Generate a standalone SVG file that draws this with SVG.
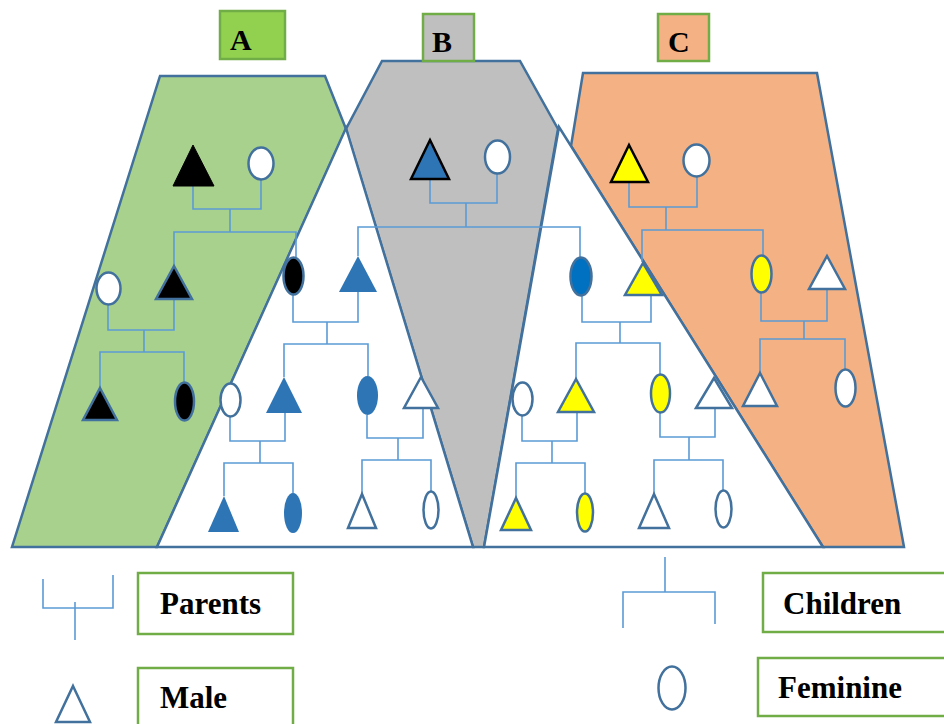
<svg xmlns="http://www.w3.org/2000/svg" width="944" height="724" viewBox="0 0 944 724">
<style>
.area{stroke:#41719C;stroke-width:2.5;stroke-linejoin:miter}
.con{fill:none;stroke:#5B9BD5;stroke-width:1.6}
.n{stroke:#41719C;stroke-width:2.5}
.nk{stroke:#000;stroke-width:2.5}
.wht{fill:#fff}
.blk{fill:#000}
.blu{fill:#2E75B6}
.blu2{fill:#0070C0}
.yel{fill:#FFFF00}
.lbl{stroke:#70AD47;stroke-width:2.5}
.t{font-family:"Liberation Serif","Times New Roman",serif;font-weight:bold;fill:#000}
</style>
<g id="regions">
<polygon id="region-A" class="area" fill="#A9D18E" points="160,76 325,76 346,129 157,547 12,547"/>
<polygon id="region-B" class="area" fill="#BFBFBF" points="382,61 520,61 558,129 484,547 473,547 346,129"/>
<polygon id="region-C" class="area" fill="#F4B183" points="583,73 817,73 904,547 823,547 571,146"/>
<polygon id="tri-1" class="area" fill="#fff" points="346,128 473,547 157,547"/>
<polygon id="tri-2" class="area" fill="#fff" points="559,127 823,547 484,547"/>
</g>
<g id="connectors">
<path class="con" d="M193,186 V209 H261 V180 M230,209 V232 M174,265 V232 H296 V257"/>
<path class="con" d="M108,305 V330 H174 V299 M144,330 V352 M100,387 V352 H184 V382"/>
<path class="con" d="M293,295 V322 H358 V292 M327,322 V344 M284,377 V344 H368 V376"/>
<path class="con" d="M230,417 V441 H285 V413 M260,441 V463 M224,496 V463 H293 V493"/>
<path class="con" d="M367,415 V438 H423 V408 M398,438 V460 M362,493 V460 H431 V491"/>
<path class="con" d="M430,179 V203 H497 V174 M466,203 V227 M358,256 V227 H580 V257"/>
<path class="con" d="M582,295 V322 H651 V293 M620,322 V343 M576,378 V343 H660 V374"/>
<path class="con" d="M522,416 V441 H577 V412 M552,441 V463 M516,497 V463 H585 V493"/>
<path class="con" d="M660,413 V437 H715 V408 M689,437 V460 M654,493 V460 H723 V490"/>
<path class="con" d="M629,182 V207 H697 V177 M666,207 V230 M642,262 V230 H763 V255"/>
<path class="con" d="M761,293 V321 H827 V289 M804,321 V339 M760,372 V339 H845 V369"/>
</g>
<g id="nodes">
<g id="a-father"><polygon class="blk" stroke="#000" stroke-width="1" points="193,145 214,186 173,186"/></g>
<g id="a-mother"><ellipse class="n wht" cx="261" cy="163.5" rx="12.5" ry="16"/></g>
<g id="a-f2"><ellipse class="n wht" cx="108.5" cy="288.5" rx="12" ry="16"/></g>
<g id="a-m2"><polygon class="n blk" points="174,266 192,299 156,299"/></g>
<g id="a-m3"><polygon class="n blk" points="100,388 117,420 83,420"/></g>
<g id="a-f3"><ellipse class="n blk" cx="184.5" cy="401.5" rx="9.5" ry="19"/></g>
<g id="t1-f2"><ellipse class="n blk" cx="293.5" cy="276" rx="10" ry="18.5"/></g>
<g id="t1-m2"><polygon class="blu" points="358,256 377,292 339,292"/></g>
<g id="t1-f3a"><ellipse class="n wht" cx="230.5" cy="400" rx="10" ry="16.5"/></g>
<g id="t1-m3a"><polygon class="blu" points="284,377 302,413 266,413"/></g>
<g id="t1-f3b"><ellipse class="blu" cx="367.5" cy="395.5" rx="10.5" ry="19.5"/></g>
<g id="t1-m3b"><polygon class="n wht" points="421,377 438,408 404,408"/></g>
<g id="t1-m4a"><polygon class="blu" points="224,496 239,532 208,532"/></g>
<g id="t1-f4a"><ellipse class="blu" cx="293" cy="513" rx="9" ry="20"/></g>
<g id="t1-m4b"><polygon class="n wht" points="362,494 376,528 348,528"/></g>
<g id="t1-f4b"><ellipse class="n wht" cx="431" cy="510" rx="7.5" ry="18.5"/></g>
<g id="b-father"><polygon class="nk blu" points="430,140 449,179 411,179"/></g>
<g id="b-mother"><ellipse class="n wht" cx="497.5" cy="157" rx="12.5" ry="16.5"/></g>
<g id="t2-f2"><ellipse class="n blu2" cx="581" cy="276.5" rx="10.5" ry="19"/></g>
<g id="t2-m2"><polygon class="n yel" points="643,263 662,295 625,295"/></g>
<g id="t2-f3a"><ellipse class="n wht" cx="522.5" cy="399" rx="10" ry="16.5"/></g>
<g id="t2-m3a"><polygon class="n yel" points="576,379 594,412 558,412"/></g>
<g id="t2-f3b"><ellipse class="n yel" cx="660.5" cy="393.5" rx="9.5" ry="19"/></g>
<g id="t2-m3b"><polygon class="n wht" points="714,378 732,408 696,408"/></g>
<g id="t2-m4a"><polygon class="n yel" points="516,498 531,530 501,530"/></g>
<g id="t2-f4a"><ellipse class="n yel" cx="585" cy="512.5" rx="8" ry="19"/></g>
<g id="t2-m4b"><polygon class="n wht" points="654,494 669,528 639,528"/></g>
<g id="t2-f4b"><ellipse class="n wht" cx="723.5" cy="509" rx="8" ry="18.5"/></g>
<g id="c-father"><polygon class="nk yel" points="629,145 648,182 611,182"/></g>
<g id="c-mother"><ellipse class="n wht" cx="696.5" cy="160.5" rx="13" ry="16"/></g>
<g id="c-f2"><ellipse class="n yel" cx="761.5" cy="274" rx="10" ry="18.5"/></g>
<g id="c-m2"><polygon class="n wht" points="827,256 845,289 809,289"/></g>
<g id="c-m3"><polygon class="n wht" points="760,373 777,406 743,406"/></g>
<g id="c-f3"><ellipse class="n wht" cx="845.5" cy="388" rx="10" ry="18.5"/></g>
</g>
<g id="labels">
<g id="label-A"><rect class="lbl" fill="#92D050" x="220" y="11" width="65" height="48"/><text class="t" x="230" y="50" font-size="30">A</text></g>
<g id="label-B"><rect class="lbl" fill="#BFBFBF" x="423" y="14" width="51" height="47"/><text class="t" x="432" y="52" font-size="30">B</text></g>
<g id="label-C"><rect class="lbl" fill="#F4B183" x="658" y="14" width="51" height="47"/><text class="t" x="668" y="52" font-size="30">C</text></g>
</g>
<g id="legend">
<g id="legend-parents">
<path class="con" d="M43,579 V608 H113 V575 M75,602 V640"/>
<rect class="lbl" fill="#fff" x="138" y="573" width="155" height="61"/>
<text class="t" x="160" y="614" font-size="31">Parents</text>
</g>
<g id="legend-male">
<polygon class="n wht" points="73,686 90,722 56,722"/>
<rect class="lbl" fill="#fff" x="138" y="668" width="155" height="70"/>
<text class="t" x="160" y="708" font-size="31">Male</text>
</g>
<g id="legend-children">
<path class="con" d="M665,557 V592 M623,628 V592 H715 V624"/>
<rect class="lbl" fill="#fff" x="763" y="573" width="200" height="59"/>
<text class="t" x="783" y="614" font-size="31">Children</text>
</g>
<g id="legend-feminine">
<ellipse class="n wht" cx="672" cy="688" rx="13.5" ry="21.5"/>
<rect class="lbl" fill="#fff" x="758" y="658" width="200" height="58"/>
<text class="t" x="778" y="698" font-size="31">Feminine</text>
</g>
</g>
</svg>
